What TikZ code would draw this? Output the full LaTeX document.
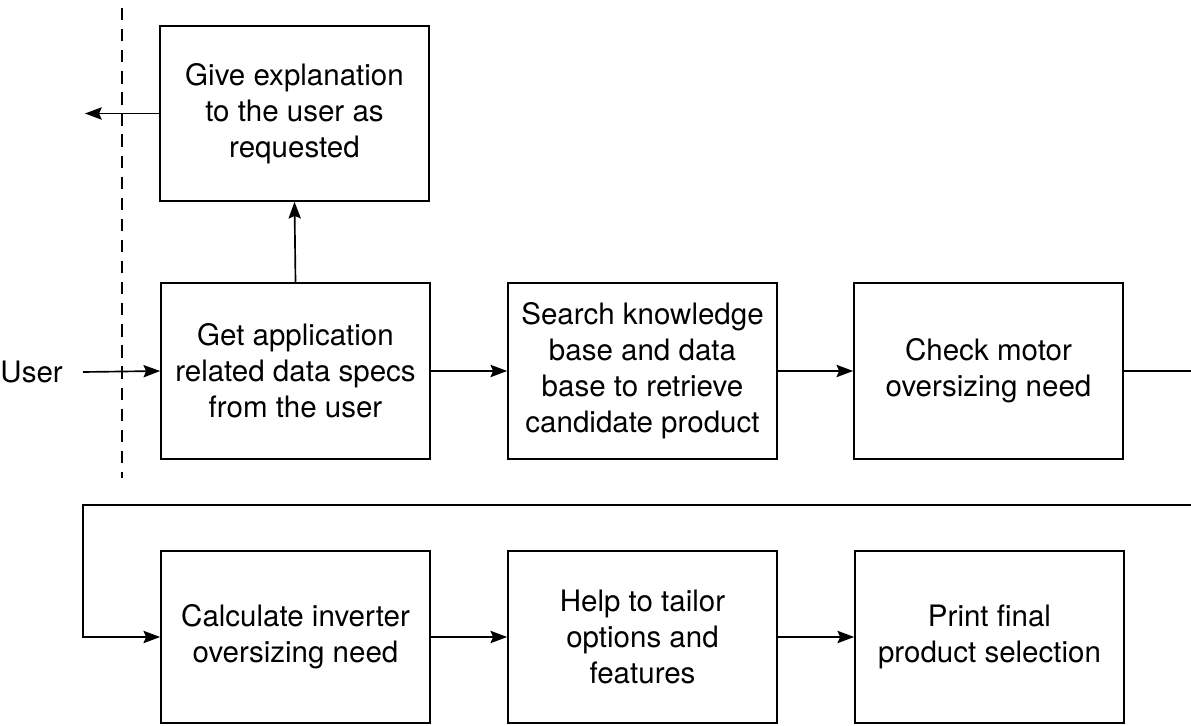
\documentclass[tikz,border=0pt]{standalone}
\usepackage{fontspec}
\setmainfont{TeX Gyre Heros}
\usepackage{tikz}
\usetikzlibrary{arrows.meta, positioning}

\begin{document}
\begin{tikzpicture}[x=0.02cm, y=-0.02cm,
    stage/.style={draw, line width=0.95pt, minimum width=5.38cm, align=center,
                  font=\fontsize{16.8}{20.5}\selectfont},
    flow/.style={-{Stealth[length=9.5pt, width=7pt, inset=1.5pt]}, line width=0.95pt},
    plain/.style={line width=0.95pt}]
  \useasboundingbox (0,0) rectangle (1191,726);

  % Boundary to the user
  \coordinate (bndtop) at (122,8);
  \coordinate (bndbot) at (122,478);
  \draw[line width=0.8pt, dash pattern=on 7pt off 5pt] (bndtop) -- (bndbot);

  % Upper row
  \node[stage, minimum height=3.5cm] (explain) at (294.5,113.5) {Give explanation\\to the user as\\requested};
  \node[stage, minimum height=3.52cm] (getspecs) at (295.5,371) {Get application\\related data specs\\from the user};
  \node[stage, minimum height=3.52cm] (search) at (642.5,371) {Search knowledge\\base and data\\base to retrieve\\candidate product};
  \node[stage, minimum height=3.52cm] (motor) at (988.5,371) {Check motor\\oversizing need};

  % Lower row
  \node[stage, minimum height=3.44cm] (inverter) at (295.5,637) {Calculate inverter\\oversizing need};
  \node[stage, minimum height=3.44cm] (tailor) at (642.5,637) {Help to tailor\\options and\\features};
  \node[stage, minimum height=3.44cm] (final) at (989.5,637) {Print final\\product selection};

  % User input
  \node[font=\fontsize{16.8}{20.5}\selectfont, anchor=east] (user) at (69,372) {User};
  \coordinate (userout) at (83,372);
  \draw[flow] (userout) -- (getspecs.west);

  % Explanation back to the user
  \coordinate (explout) at (85,113.5);
  \draw[flow] (getspecs.north) -- (explain.south);
  \draw[flow] (explain.west) -- (explout);

  % Main chain
  \draw[flow] (getspecs) -- (search);
  \draw[flow] (search) -- (motor);
  \coordinate (wrapR) at (1191,371);
  \coordinate (wrapR2) at (1191,505);
  \coordinate (wrapL) at (83,505);
  \coordinate (wrapL2) at (83,637);
  \draw[plain] (motor.east) -- (wrapR);
  \draw[flow] (wrapR2) -- (wrapL) -- (wrapL2) -- (inverter.west);
  \draw[flow] (inverter) -- (tailor);
  \draw[flow] (tailor) -- (final);
\end{tikzpicture}
\end{document}
